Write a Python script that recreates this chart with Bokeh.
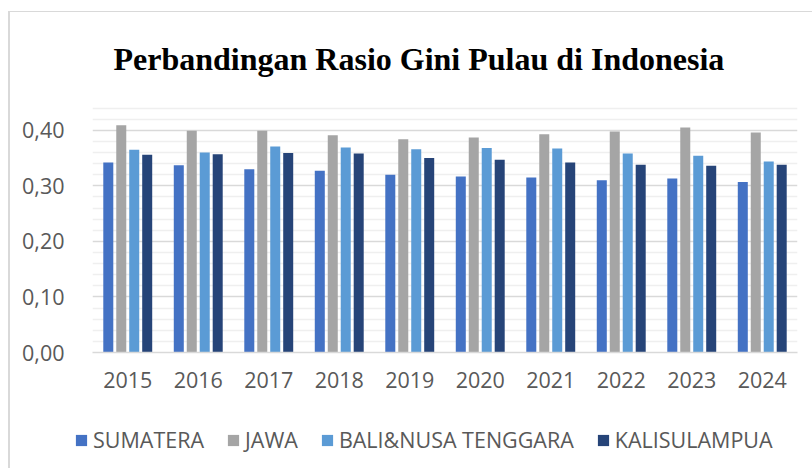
from bokeh.plotting import figure
from bokeh.models import FactorRange, FixedTicker, Legend, LegendItem, Title
from bokeh.layouts import column
from bokeh.transform import dodge
from bokeh.embed import file_html
from bokeh.resources import INLINE

years = ["2015", "2016", "2017", "2018", "2019", "2020", "2021", "2022", "2023", "2024"]
series_names = ["SUMATERA", "JAWA", "BALI&NUSA TENGGARA", "KALISULAMPUA"]
sumatera = [0.342, 0.337, 0.330, 0.327, 0.320, 0.317, 0.315, 0.310, 0.313, 0.307]
jawa = [0.409, 0.399, 0.399, 0.391, 0.384, 0.387, 0.393, 0.398, 0.405, 0.396]
bali_nusa = [0.365, 0.360, 0.371, 0.369, 0.366, 0.368, 0.367, 0.358, 0.354, 0.344]
kalisulampua = [0.356, 0.357, 0.359, 0.358, 0.350, 0.347, 0.342, 0.338, 0.336, 0.338]
y_ticks = [0.0, 0.1, 0.2, 0.3, 0.4]
y_tick_labels = ["0,00", "0,10", "0,20", "0,30", "0,40"]
y_minor = [0.02, 0.04, 0.06, 0.08, 0.12, 0.14, 0.16, 0.18, 0.22, 0.24, 0.26, 0.28,
           0.32, 0.34, 0.36, 0.38, 0.42, 0.44]
title_text = "Perbandingan Rasio Gini Pulau di Indonesia"

colors = ["#4472C4", "#A5A5A5", "#5B9BD5", "#264478"]
offsets = [-0.276, -0.092, 0.092, 0.276]

data = {"year": years, "s0": sumatera, "s1": jawa, "s2": bali_nusa, "s3": kalisulampua}

p = figure(
    width=802, height=400,
    x_range=FactorRange(*years, range_padding=0),
    y_range=(0, 0.45),
    output_backend="svg", toolbar_location=None,
    min_border_left=82, min_border_right=15, min_border_top=90, min_border_bottom=60,
)
p.outline_line_color = None
p.background_fill_color = "white"
p.border_fill_color = "white"

t = Title(text=title_text, align="left", offset=21, standoff=51,
          text_font="Liberation Serif", text_font_style="bold",
          text_font_size="32px", text_color="black")
p.add_layout(t, "above")

for i, key in enumerate(["s0", "s1", "s2", "s3"]):
    p.vbar(x=dodge("year", offsets[i], range=p.x_range), top=key, width=0.142,
           source=data, fill_color=colors[i], line_color=None)

p.xgrid.grid_line_color = None
p.ygrid.grid_line_color = "#d9d9d9"
p.ygrid.grid_line_width = 1.5
p.ygrid.minor_grid_line_color = "#efefef"
p.ygrid.minor_grid_line_width = 1.5
p.yaxis.ticker = FixedTicker(ticks=y_ticks, minor_ticks=y_minor)
p.yaxis.major_label_overrides = dict(zip(y_ticks, y_tick_labels))
p.yaxis.axis_line_color = None
p.yaxis.major_tick_line_color = None
p.yaxis.minor_tick_line_color = None
p.yaxis.major_label_standoff = 22
p.yaxis.major_label_text_font = "Open Sans"
p.yaxis.major_label_text_font_size = "21.5px"
p.yaxis.major_label_text_color = "#595959"

p.xaxis.axis_line_color = "#d9d9d9"
p.xaxis.axis_line_width = 1.5
p.xaxis.major_tick_line_color = None
p.xaxis.minor_tick_line_color = None
p.xaxis.major_label_standoff = 13
p.xaxis.major_label_text_font = "Open Sans"
p.xaxis.major_label_text_font_size = "21.5px"
p.xaxis.major_label_text_color = "#595959"

# legend strip (its own small figure, frame not aligned with the chart's frame)
q = figure(width=802, height=56, x_range=(0, 1), y_range=(0, 1),
           output_backend="svg", toolbar_location=None,
           min_border_left=0, min_border_right=0, min_border_top=0, min_border_bottom=0)
q.frame_align = False
q.axis.visible = False
q.grid.visible = False
q.outline_line_color = None
q.background_fill_color = "white"
q.border_fill_color = "white"
proxies = [q.vbar(x=[0], top=[0], width=0, fill_color=c, line_color=None) for c in colors]

legend = Legend(
    items=[LegendItem(label=n, renderers=[r]) for n, r in zip(series_names, proxies)],
    orientation="horizontal", location=(64, 14),
    glyph_width=14, glyph_height=14, label_standoff=5, spacing=22,
    padding=0, margin=0, border_line_color=None, background_fill_alpha=0,
    label_text_font="Open Sans", label_text_font_size="21.5px", label_text_color="#595959",
)
q.add_layout(legend, "center")

layout = column(p, q, spacing=0)
layout.styles = {"margin-left": "8px", "margin-top": "11px",
                 "border-left": "2px solid #d9d9d9", "border-top": "1px solid #d9d9d9"}

open("out.html", "w").write(file_html(layout, INLINE))
